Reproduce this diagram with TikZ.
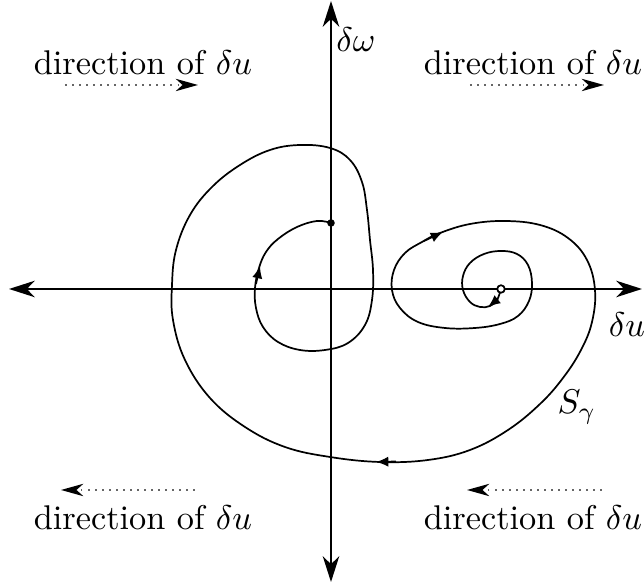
\documentclass[tikz,border=0pt]{standalone}
\usetikzlibrary{arrows.meta}
\begin{document}
\begin{tikzpicture}[x=0.2915pt,y=-0.2915pt,
  bigtip/.tip={Stealth[length=7.5pt,width=4.8pt,inset=2.3pt]},
  axis/.style={line width=0.6pt,bigtip-bigtip},
  curve/.style={line width=0.5pt},
  dirarrow/.style={line width=0.5pt,black!60,dash pattern=on 0.45pt off 1.6pt,
    -{Stealth[length=6.5pt,width=3.6pt,inset=2pt,color=black]}},
  lbl/.style={anchor=base,inner sep=0pt},
  cuetip/.style={-{Latex[length=3.6pt,width=3pt]},line width=0.5pt}
]
\useasboundingbox (0,0) rectangle (644,588);

% axes
\coordinate (xl) at (9,289);
\coordinate (xr) at (642,289);
\coordinate (yt) at (331,1);
\coordinate (yb) at (331,582);
\draw[axis] (xl) -- (xr);
\draw[axis] (yt) -- (yb);

% axis labels
\node[lbl] (dw) at (356,52) {$\delta\omega$};
\node[lbl] (du) at (627,337) {$\delta u$};
\node[lbl,anchor=base west] (sg) at (557,414) {$S_\gamma$};

% direction labels
\node[lbl] (t1) at (143,75) {direction of $\delta u$};
\node[lbl] (t2) at (533,75) {direction of $\delta u$};
\node[lbl] (t3) at (143,530) {direction of $\delta u$};
\node[lbl] (t4) at (533,530) {direction of $\delta u$};

\coordinate (a1s) at (65,85);  \coordinate (a1e) at (198,85);
\coordinate (a2s) at (470,85); \coordinate (a2e) at (604,85);
\coordinate (a3s) at (195,490); \coordinate (a3e) at (61,490);
\coordinate (a4s) at (602,490); \coordinate (a4e) at (467,490);
\draw[dirarrow] (a1s) -- (a1e);
\draw[dirarrow] (a2s) -- (a2e);
\draw[dirarrow] (a3s) -- (a3e);
\draw[dirarrow] (a4s) -- (a4e);

% spiral curve
\draw[curve] plot[smooth,tension=0.65] coordinates {
(501,289) (497,300) (490,306) (480,307) (470,302) (463,290) (463,276)
(470,263) (484,254) (501,251) (517,254) (528,265) (532,283) (529,301)
(518,316) (500,324) (475,328) (445,328) (418,322) (400,308) (392,290)
(394,270) (405,253) (422,242) (440,233) (470,224) (505,221) (540,225)
(568,238) (587,260) (595,290) (592,322) (581,350) (563,378) (540,404)
(508,430) (470,450) (428,460) (380,462) (330,457) (285,447) (245,427)
(210,398) (185,360) (173,320) (172,285) (176,250) (190,215) (212,187)
(240,165) (270,150) (300,145) (330,148) (350,160) (362,182) (367,210)
(370,240) (373,270) (372,300) (365,325) (348,343) (325,350) (300,350)
(278,342) (263,327) (256,308) (255,288) (259,268) (266,252) (278,239)
(297,227) (317,221) (331,223)};

% direction cues on the curve
\draw[cuetip] (256,284) -- (260,266);
\draw[cuetip] (424,241) -- (443,232);
\draw[cuetip] (396,461.5) -- (376,462);
\draw[cuetip] (498,299) -- (488,307);

% end points
\fill (331,223) circle[radius=1.1pt];
\draw[line width=0.5pt,fill=white] (501,289) circle[radius=1.1pt];
\end{tikzpicture}
\end{document}
